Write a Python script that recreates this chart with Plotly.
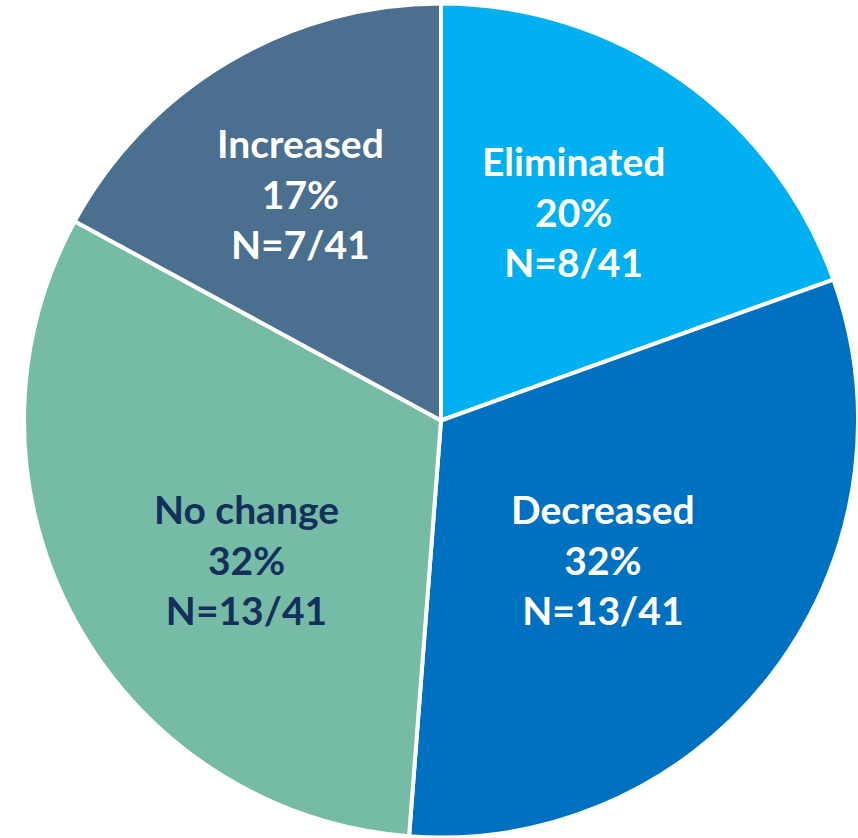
import plotly.graph_objects as go

categories = ["Eliminated", "Decreased", "No change", "Increased"]
counts = [8, 13, 13, 7]
total = 41
percents = ["20%", "32%", "32%", "17%"]
colors = ["#00B0F0", "#0070C0", "#76BBA6", "#4A6F8F"]
text_colors = ["#FFFFFF", "#FFFFFF", "#12305A", "#FFFFFF"]
label_pos = [(573, 212), (603, 559), (246, 559), (300, 193)]  # pixel centres

W, H = 858, 838
cx, cy, r = 442, 421, 418

fig = go.Figure(go.Pie(
    labels=categories,
    values=counts,
    sort=False,
    direction="clockwise",
    rotation=0,
    marker=dict(colors=colors, line=dict(color="white", width=4)),
    textinfo="none",
    hoverinfo="skip",
    showlegend=False,
    domain=dict(x=[(cx - r) / W, min(1.0, (cx + r) / W)],
                y=[max(0.0, (H - cy - r) / H), min(1.0, (H - cy + r) / H)]),
))

for cat, n, p, tc, (px, py) in zip(categories, counts, percents, text_colors, label_pos):
    fig.add_annotation(
        x=px / W, y=1 - py / H, xref="paper", yref="paper",
        text=f"{cat}<br>{p}<br>N={n}/{total}",
        showarrow=False, align="center",
        font=dict(family="Lato", size=39, color=tc, weight="bold"),
        xanchor="center", yanchor="middle",
    )

fig.update_layout(
    width=W, height=H,
    margin=dict(l=0, r=0, t=0, b=0),
    paper_bgcolor="white", plot_bgcolor="white",
)

fig.write_html("out.html")
